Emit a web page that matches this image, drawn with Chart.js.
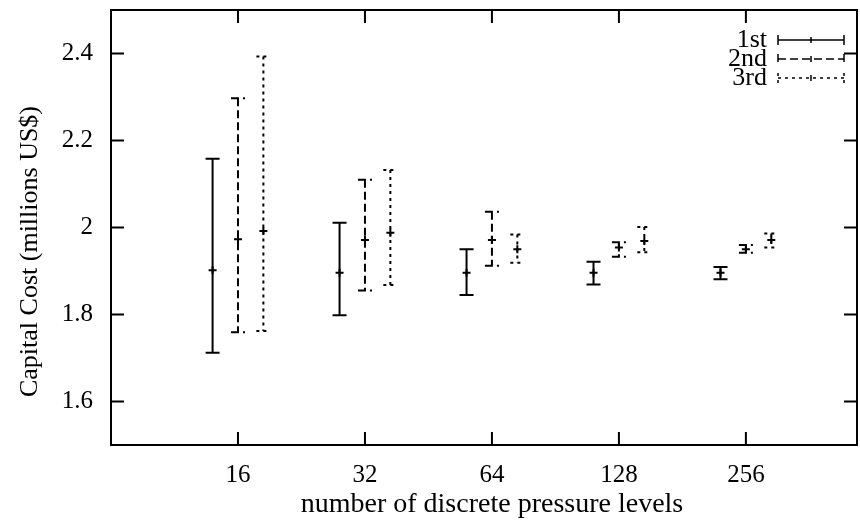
<!DOCTYPE html>
<html>
<head>
<meta charset="utf-8">
<script src="https://cdn.jsdelivr.net/npm/chart.js@4.4.1/dist/chart.umd.min.js"></script>
<style>
  body { margin: 0; background: #fff; }
  canvas { display: block; }
</style>
</head>
<body>
<canvas id="costChart" width="860" height="523"></canvas>
<script>
// pressure level counts on the x axis
const levels = [16, 32, 64, 128, 256];
const xTickLabels = ['16', '32', '64', '128', '256'];
const yTicks = [1.6, 1.8, 2.0, 2.2, 2.4];
const yTickLabels = ['1.6', '1.8', '2', '2.2', '2.4'];

// capital cost: mean with low / high range for each run
const firstMean  = [1.902, 1.896, 1.896, 1.896, 1.896];
const firstLow   = [1.712, 1.798, 1.845, 1.869, 1.881];
const firstHigh  = [2.158, 2.011, 1.950, 1.921, 1.909];
const secondMean = [1.973, 1.971, 1.971, 1.954, 1.950];
const secondLow  = [1.759, 1.855, 1.912, 1.933, 1.942];
const secondHigh = [2.297, 2.110, 2.036, 1.966, 1.960];
const thirdMean  = [1.992, 1.988, 1.950, 1.969, 1.971];
const thirdLow   = [1.762, 1.868, 1.919, 1.943, 1.954];
const thirdHigh  = [2.393, 2.132, 1.984, 2.001, 1.986];

const FONT = "'Liberation Serif', 'Times New Roman', serif";
const xTitle = 'number of discrete pressure levels';
const yTitle = 'Capital Cost (millions US$)';

function makeSeries(label, means, lows, highs, shift, dash) {
    return {
        label: label,
        data: levels.map((n, i) => ({ x: Math.log2(n) + shift, y: means[i] })),
        lows: lows,
        highs: highs,
        dash: dash,
        showLine: false,
        pointStyle: 'cross',
        pointRadius: 4,
        borderWidth: 2,
        borderColor: '#000',
        backgroundColor: '#000'
    };
}

// vertical range bars with caps, drawn from the dataset's low/high arrays
const errorBars = {
    id: 'errorBars',
    afterDatasetsDraw(chart) {
        const ctx = chart.ctx;
        const xs = chart.scales.x, ys = chart.scales.y;
        ctx.save();
        ctx.strokeStyle = '#000';
        ctx.lineWidth = 2;
        chart.data.datasets.forEach(ds => {
            ctx.setLineDash(ds.dash);
            ds.data.forEach((pt, i) => {
                const x = xs.getPixelForValue(pt.x);
                const yl = ys.getPixelForValue(ds.lows[i]);
                const yh = ys.getPixelForValue(ds.highs[i]);
                ctx.beginPath();
                ctx.moveTo(x, yh);
                ctx.lineTo(x, yl);
                ctx.moveTo(x - 7, yh);
                ctx.lineTo(x + 7, yh);
                ctx.moveTo(x - 7, yl);
                ctx.lineTo(x + 7, yl);
                ctx.stroke();
            });
        });
        ctx.restore();
    }
};

// box frame with inward, mirrored tick marks, axis titles and the key
const frame = {
    id: 'frame',
    afterDraw(chart) {
        const ctx = chart.ctx;
        const a = chart.chartArea;
        const xs = chart.scales.x, ys = chart.scales.y;
        ctx.save();
        ctx.strokeStyle = '#000';
        ctx.lineWidth = 2;
        ctx.strokeRect(a.left, a.top, a.right - a.left, a.bottom - a.top);
        ctx.beginPath();
        xs.ticks.forEach(t => {
            const x = xs.getPixelForValue(t.value);
            ctx.moveTo(x, a.bottom);
            ctx.lineTo(x, a.bottom - 13);
            ctx.moveTo(x, a.top);
            ctx.lineTo(x, a.top + 13);
        });
        ys.ticks.forEach(t => {
            const y = ys.getPixelForValue(t.value);
            ctx.moveTo(a.left, y);
            ctx.lineTo(a.left + 13, y);
            ctx.moveTo(a.right, y);
            ctx.lineTo(a.right - 13, y);
        });
        ctx.stroke();

        // axis titles
        ctx.fillStyle = '#000';
        ctx.textAlign = 'center';
        ctx.textBaseline = 'middle';
        ctx.font = '28px ' + FONT;
        ctx.fillText(xTitle, (a.left + a.right) / 2 + 8, a.bottom + 60);
        ctx.save();
        ctx.font = '26px ' + FONT;
        ctx.translate(a.left - 81, (a.top + a.bottom) / 2 + 24);
        ctx.rotate(-Math.PI / 2);
        ctx.fillText(yTitle, 0, 0);
        ctx.restore();

        // key
        ctx.font = '26px ' + FONT;
        ctx.textAlign = 'right';
        chart.data.datasets.forEach((ds, i) => {
            const y = a.top + 30 + i * 19;
            const x0 = a.right - 79, x1 = a.right - 13;
            ctx.fillText(ds.label, x0 - 11, y);
            ctx.setLineDash(ds.dash);
            ctx.lineWidth = 1.5;
            ctx.beginPath();
            ctx.moveTo(x0, y);
            ctx.lineTo(x1, y);
            ctx.moveTo(x0, y - 5);
            ctx.lineTo(x0, y + 5);
            ctx.moveTo(x1, y - 5);
            ctx.lineTo(x1, y + 5);
            ctx.stroke();
            ctx.setLineDash([]);
            ctx.beginPath();
            const xm = (x0 + x1) / 2;
            ctx.moveTo(xm, y - 3);
            ctx.lineTo(xm, y + 3);
            ctx.stroke();
        });
        ctx.restore();
    }
};

new Chart(document.getElementById('costChart'), {
    type: 'scatter',
    data: {
        datasets: [
            makeSeries('1st', firstMean, firstLow, firstHigh, -0.2, []),
            makeSeries('2nd', secondMean, secondLow, secondHigh, 0, [8, 4]),
            makeSeries('3rd', thirdMean, thirdLow, thirdHigh, 0.2, [3, 4])
        ]
    },
    options: {
        responsive: false,
        animation: false,
        layout: { autoPadding: false, padding: { top: 10, right: 3, left: 0, bottom: 0 } },
        plugins: {
            legend: { display: false },
            tooltip: { enabled: false }
        },
        scales: {
            x: {
                type: 'linear',
                min: 3,
                max: 8.875,
                grid: { display: false, drawTicks: false },
                border: { display: false },
                afterBuildTicks: s => { s.ticks = levels.map(n => ({ value: Math.log2(n) })); },
                afterFit: s => { s.height = 78; s.paddingLeft = 0; s.paddingRight = 0; },
                ticks: {
                    color: '#000',
                    padding: 15,
                    maxRotation: 0,
                    font: { family: FONT, size: 25 },
                    callback: (v, i) => xTickLabels[i]
                }
            },
            y: {
                min: 1.5,
                max: 2.5,
                grid: { display: false, drawTicks: false },
                border: { display: false },
                afterBuildTicks: s => { s.ticks = yTicks.map(v => ({ value: v })); },
                afterFit: s => { s.width = 111; s.paddingTop = 0; s.paddingBottom = 0; },
                ticks: {
                    color: '#000',
                    padding: 18,
                    font: { family: FONT, size: 25 },
                    callback: (v, i) => yTickLabels[i]
                }
            }
        }
    },
    plugins: [errorBars, frame]
});
</script>
</body>
</html>
